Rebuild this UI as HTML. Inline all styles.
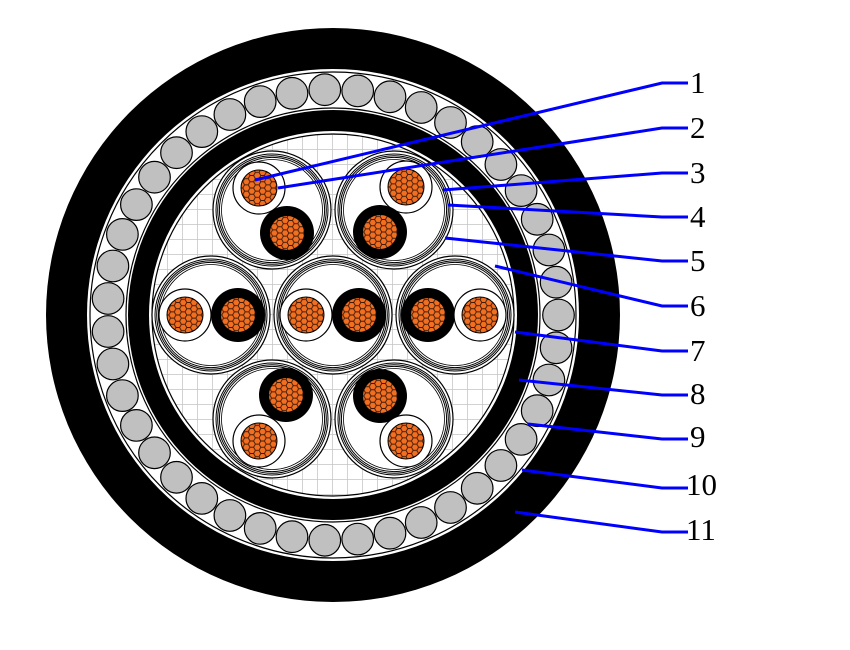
<!DOCTYPE html>
<html><head><meta charset="utf-8"><style>
html,body{margin:0;padding:0;background:#fff;width:850px;height:650px;overflow:hidden}
text{font-family:"Liberation Serif",serif;font-size:31px;fill:#000}
</style></head><body>
<svg width="850" height="650" viewBox="0 0 850 650" xmlns="http://www.w3.org/2000/svg">
<defs>
<pattern id="grid" width="15" height="15" patternUnits="userSpaceOnUse" x="3" y="0">
<rect width="15" height="15" fill="#fff"/>
<path d="M15 0V15H0" fill="none" stroke="#c4c4c4" stroke-width="1.5"/>
</pattern>
<pattern id="hex" width="10.8" height="6.24" patternUnits="userSpaceOnUse">
<rect width="10.8" height="6.24" fill="#f26f21"/>
<path d="M0 3.12 L1.8 0 L5.4 0 L7.2 3.12 L5.4 6.24 L1.8 6.24 Z M7.2 3.12 L10.8 3.12" fill="none" stroke="#3a1a08" stroke-width="0.9"/>
</pattern>
<g id="cw"><circle r="26" fill="#fff" stroke="#000" stroke-width="1.2"/><circle r="18" fill="url(#hex)" stroke="#000" stroke-width="1"/></g>
<g id="cb"><circle r="27" fill="#000"/><circle r="17.5" fill="url(#hex)" stroke="#000" stroke-width="1"/></g>
<g id="unit">
<circle r="59" fill="#fff" stroke="#000" stroke-width="1.2"/>
<circle r="56" fill="none" stroke="#000" stroke-width="1"/>
<circle r="54.3" fill="none" stroke="#000" stroke-width="1"/>
<circle r="52.6" fill="none" stroke="#000" stroke-width="1"/>
<circle r="50.5" fill="none" stroke="#000" stroke-width="0.8"/>
</g>
</defs>
<circle cx="333" cy="315" r="287" fill="#000"/>
<circle cx="333" cy="315" r="246" fill="#fff"/>
<circle cx="333" cy="315" r="243" fill="#fff" stroke="#000" stroke-width="1.2"/>
<g id="armor" fill="#c0c0c0" stroke="#000" stroke-width="1.2"></g>
<circle cx="333" cy="315" r="207" fill="#fff" stroke="#000" stroke-width="1.2"/>
<circle cx="333" cy="315" r="205" fill="#000"/>
<circle cx="333" cy="315" r="184" fill="#fff"/>
<circle cx="333" cy="315" r="181" fill="url(#grid)" stroke="#000" stroke-width="1.2"/>
<use href="#unit" x="272" y="210"/><use href="#unit" x="394" y="210"/>
<use href="#unit" x="211" y="315"/><use href="#unit" x="333" y="315"/><use href="#unit" x="455" y="315"/>
<use href="#unit" x="272" y="419"/><use href="#unit" x="394" y="419"/>
<use href="#cw" x="259" y="188"/><use href="#cb" x="287" y="233"/>
<use href="#cw" x="406" y="187"/><use href="#cb" x="380" y="232"/>
<use href="#cw" x="185" y="315"/><use href="#cb" x="238" y="315"/>
<use href="#cw" x="306" y="315"/><use href="#cb" x="359" y="315"/>
<use href="#cb" x="428" y="315"/><use href="#cw" x="480" y="315"/>
<use href="#cb" x="286" y="395"/><use href="#cw" x="259" y="441"/>
<use href="#cb" x="380" y="396"/><use href="#cw" x="406" y="441"/>
<g fill="none" stroke="#0000ff" stroke-width="3">
<polyline points="255,180 662,83 688,83"/>
<polyline points="278,188 662,128 688,128"/>
<polyline points="443,190 662,173 688,173"/>
<polyline points="448,205 662,217 688,217"/>
<polyline points="445,238 662,261 688,261"/>
<polyline points="495,266 662,306 688,306"/>
<polyline points="515,332 662,351 688,351"/>
<polyline points="519,380 662,395 688,395"/>
<polyline points="528,424 662,439 688,439"/>
<polyline points="522,470 662,488 688,488"/>
<polyline points="515,512 662,532 688,532"/>
</g>
<text x="690" y="93">1</text><text x="690" y="138">2</text><text x="690" y="183">3</text>
<text x="690" y="227">4</text><text x="690" y="271">5</text><text x="690" y="316">6</text>
<text x="690" y="361">7</text><text x="690" y="404">8</text><text x="690" y="447">9</text>
<text x="686" y="495">10</text><text x="686" y="540">11</text>
</svg>
<script>
var g=document.getElementById('armor'),n=43,s='';
for(var i=0;i<n;i++){var a=i*2*Math.PI/n;s+='<circle cx="'+(333+225.5*Math.cos(a)).toFixed(1)+'" cy="'+(315+225.5*Math.sin(a)).toFixed(1)+'" r="15.8"/>';}
g.innerHTML=s;
</script>
</body></html>
